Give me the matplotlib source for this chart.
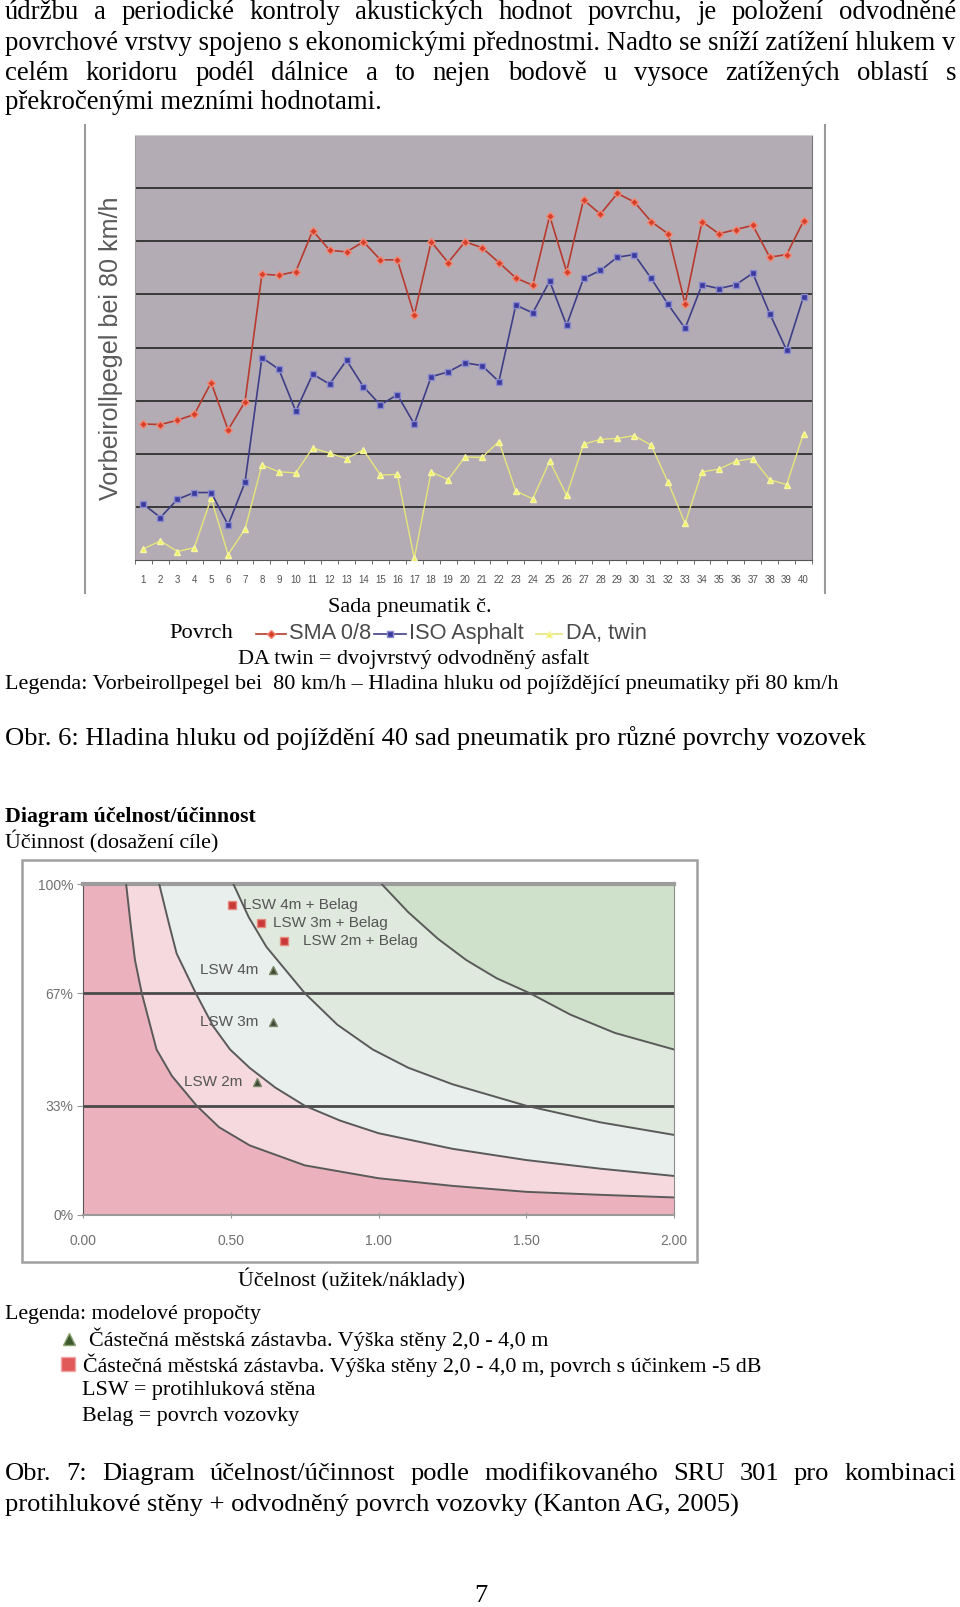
import numpy as np
import matplotlib
matplotlib.use('Agg')
import matplotlib.pyplot as plt
from matplotlib.lines import Line2D
from matplotlib.patches import Rectangle

# Obr. 6 - Vorbeirollpegel (in gridline units, no scale printed on the chart)
sady = list(range(1, 41))
sma_08 = [2.56, 2.55, 2.63, 2.74, 3.34, 2.45, 2.98, 5.38, 5.36, 5.43,
          6.20, 5.83, 5.80, 5.99, 5.65, 5.65, 4.61, 5.99, 5.60, 5.99,
          5.88, 5.60, 5.31, 5.17, 6.48, 5.43, 6.78, 6.51, 6.90, 6.74,
          6.37, 6.14, 4.82, 6.37, 6.14, 6.22, 6.30, 5.70, 5.75, 6.38]
iso_asphalt = [1.05, 0.80, 1.14, 1.27, 1.27, 0.66, 1.46, 3.81, 3.59, 2.80,
               3.50, 3.31, 3.76, 3.26, 2.92, 3.11, 2.56, 3.45, 3.54, 3.71,
               3.66, 3.36, 4.80, 4.65, 5.25, 4.42, 5.30, 5.45, 5.70, 5.75,
               5.30, 4.81, 4.36, 5.18, 5.11, 5.18, 5.40, 4.64, 3.95, 4.96]
da_twin = [0.21, 0.36, 0.16, 0.23, 1.16, 0.10, 0.58, 1.79, 1.66, 1.64,
           2.11, 2.01, 1.91, 2.07, 1.60, 1.61, 0.03, 1.66, 1.51, 1.94,
           1.93, 2.23, 1.30, 1.15, 1.86, 1.22, 2.18, 2.27, 2.29, 2.34,
           2.16, 1.46, 0.69, 1.66, 1.71, 1.86, 1.91, 1.51, 1.42, 2.38]

# Obr. 7 - hranice oblastí (účelnost, účinnost %)
k1_x = [0.145, 0.16, 0.175, 0.198, 0.248, 0.30, 0.384, 0.46, 0.564, 0.75, 1.0, 1.25, 1.5, 1.75, 2.0]
k1_y = [100, 88, 77, 67, 50, 42, 33, 26.5, 21, 15, 11.1, 8.8, 7.0, 6.1, 5.3]
k2_x = [0.257, 0.29, 0.316, 0.381, 0.44, 0.497, 0.564, 0.65, 0.75, 0.87, 1.0, 1.25, 1.5, 1.75, 2.0]
k2_y = [100, 88, 79, 67, 57, 50, 44.4, 38.5, 33, 28.5, 24.7, 20, 16.6, 14, 11.8]
k3_x = [0.508, 0.56, 0.62, 0.75, 0.86, 0.98, 1.1, 1.25, 1.5, 1.75, 2.0]
k3_y = [100, 90, 81, 67, 57.5, 50, 44.5, 39.5, 33, 28, 24.2]
k4_x = [1.01, 1.1, 1.2, 1.297, 1.4, 1.512, 1.65, 1.8, 2.0]
k4_y = [100, 91.5, 83.5, 77, 71.5, 67, 60.5, 55, 50]

belag_x = [0.502, 0.601, 0.680]
belag_y = [93.7, 88.1, 82.9]
belag_lbl = ['LSW 4m + Belag', 'LSW 3m + Belag', 'LSW 2m + Belag']
lsw_x = [0.641, 0.641, 0.587]
lsw_y = [74.0, 58.4, 40.3]
lsw_lbl = ['LSW 4m', 'LSW 3m', 'LSW 2m']

y_ticks = [0, 33, 67, 100]
x_ticks = [0.0, 0.5, 1.0, 1.5, 2.0]

W, H = 960, 1607
SERIF = 'Liberation Serif'
SANS = 'Liberation Sans'

fig = plt.figure(figsize=(W / 100, H / 100), dpi=100)
renderer = fig.canvas.get_renderer()


def fx(px):
    return px / W


def fy(py):
    return 1 - py / H


def fit_text(s, x0, x1, y, family=SERIF, weight='normal', color='black'):
    t = fig.text(fx(x0), fy(y), s, fontsize=12, family=family, weight=weight,
                 color=color, va='center', ha='left')
    w = t.get_window_extent(renderer).width
    t.set_fontsize(12 * (x1 - x0) / w)
    return t


def justify(line, x0, x1, y, size):
    words = line.split()
    ts = [fig.text(0, fy(y), w, fontsize=size, family=SERIF, va='center') for w in words]
    widths = [t.get_window_extent(renderer).width for t in ts]
    gap = (x1 - x0 - sum(widths)) / (len(words) - 1)
    x = x0
    for t, w in zip(ts, widths):
        t.set_x(fx(x))
        x += w + gap


# ---- text above ----
body = fit_text('povrchové vrstvy spojeno s ekonomickými přednostmi. Nadto se sníží zatížení hlukem v',
                5, 954, 43).get_fontsize()
justify('údržbu a periodické kontroly akustických hodnot povrchu, je položení odvodněné', 5, 956, 12.5, body)
justify('celém koridoru podél dálnice a to nejen bodově u vysoce zatížených oblastí s', 5, 956, 73, body)
fig.text(fx(5), fy(102.5), 'překročenými mezními hodnotami.', fontsize=body, family=SERIF, va='center')

# ---- Obr. 6 chart ----
ax1 = fig.add_axes([fx(135), fy(560), fx(812) - fx(135), (560 - 135) / H])
ax1.set_facecolor('#b4acb4')
ax1.plot(sady, da_twin, color='#e6e67a', lw=1, marker='^', ms=5,
         mfc='#f0f05a', mec='#f6f6a6', zorder=3)
ax1.plot(sady, iso_asphalt, color='#3e3e88', lw=1.2, marker='s', ms=4.5,
         mfc='#3a3a9c', mec='#8a8ad0', zorder=4)
ax1.plot(sady, sma_08, color='#b83a2e', lw=1.2, marker='D', ms=4,
         mfc='#d4402c', mec='#f08a76', zorder=5)
ax1.set_xlim(0.5, 40.5)
ax1.set_ylim(0, 8)
ax1.set_yticks(range(1, 8))
ax1.yaxis.grid(True, color='#383838', lw=1.4)
ax1.set_axisbelow(True)
ax1.tick_params(axis='y', length=0, labelleft=False)
ax1.set_xticks(sady)
ax1.set_xticklabels([str(s) for s in sady], fontsize=7, color='#505050', family=SANS)
ax1.set_xticks(np.arange(0.5, 41, 1), minor=True)
ax1.tick_params(axis='x', which='major', length=0, pad=11)
ax1.tick_params(axis='x', which='minor', length=3, color='#555555', direction='out')
ax1.spines['top'].set_color('#cfcfcf')
ax1.spines['left'].set_color('#a0a0a0')
ax1.spines['right'].set_color('#777777')
ax1.spines['bottom'].set_color('#555555')

ylab = fit_text('Vorbeirollpegel bei 80 km/h', 0, 304, 348, family=SANS, color='#5a5a5a')
ylab.set_rotation(90)
ylab.set_ha('center')
ylab.set_x(fx(111.5))

for xl in (85, 824.5):
    fig.add_artist(Line2D([fx(xl), fx(xl)], [fy(125), fy(593)], transform=fig.transFigure,
                          color='#9a9a9a', lw=1.5))

fit_text('Sada pneumatik č.', 328, 492, 607)
fit_text('Povrch', 169, 232.6, 633)
leg = fit_text('SMA 0/8', 289, 371, 633, family=SANS, color='#4a4a4a').get_fontsize()
fig.text(fx(409), fy(633), 'ISO Asphalt', fontsize=leg, family=SANS, color='#4a4a4a', va='center')
fig.text(fx(566), fy(633), 'DA, twin', fontsize=leg, family=SANS, color='#4a4a4a', va='center')
for (a, b), ln in zip([(256, 286), (374, 406), (536, 562)], ax1.get_lines()[::-1]):
    fig.add_artist(Line2D([fx(a), fx((a + b) / 2), fx(b)], [fy(634)] * 3, transform=fig.transFigure,
                          color=ln.get_color(), lw=1.2, marker=ln.get_marker(), markevery=[1],
                          ms=ln.get_markersize(), mfc=ln.get_markerfacecolor(),
                          mec=ln.get_markeredgecolor()))

fit_text('DA twin = dvojvrstvý odvodněný asfalt', 238, 589, 659)
fit_text('Legenda: Vorbeirollpegel bei  80 km/h – Hladina hluku od pojíždějící pneumatiky při 80 km/h',
         5, 838, 684)
fit_text('Obr. 6: Hladina hluku od pojíždění 40 sad pneumatik pro různé povrchy vozovek', 5, 864, 738)

# ---- Obr. 7 chart ----
fit_text('Diagram účelnost/účinnost', 5, 254, 817, weight='bold')
fit_text('Účinnost (dosažení cíle)', 5, 218, 842)

fig.add_artist(Rectangle((fx(21.7), fy(1262)), fx(697) - fx(21.7), (1262 - 860) / H,
                         transform=fig.transFigure, fill=False, ec='#a0a0a0', lw=1.8))

ax2 = fig.add_axes([fx(83.3), fy(1215), fx(674) - fx(83.3), (1215 - 884) / H])
ax2.set_xlim(0, 2)
ax2.set_ylim(0, 100)
ax2.set_facecolor('#ebb2be')
layers = [(k1_x, k1_y, '#f5d9de'), (k2_x, k2_y, '#e9efec'),
          (k3_x, k3_y, '#dfe9dd'), (k4_x, k4_y, '#cfe1ca')]
for xs, ys, c in layers:
    ax2.fill_between(xs, ys, 100, color=c, lw=0, zorder=1)
for xs, ys, c in layers:
    ax2.plot(xs, ys, color='#5a5a5a', lw=1.4, zorder=3)
ax2.hlines(y_ticks[1:3], 0, 2, color='#4a4a4a', lw=2, zorder=2)

ax2.plot(belag_x, belag_y, 's', ms=6, mfc='#c83a38', mec='#e88a80', zorder=5)
ax2.plot(lsw_x, lsw_y, '^', ms=6, mfc='#3f4a35', mec='#7a8a6a', zorder=5)
for x, y, s, dx in zip(belag_x, belag_y, belag_lbl, [11, 12, 19]):
    ax2.annotate(s, (x, y), xytext=(dx, 0), textcoords='offset pixels', ha='left', va='center',
                 fontsize=11, family=SANS, color='#555555')
for x, y, s in zip(lsw_x, lsw_y, lsw_lbl):
    ax2.annotate(s, (x, y), xytext=(-14, 0), textcoords='offset pixels', ha='right', va='center',
                 fontsize=11, family=SANS, color='#555555')

ax2.set_yticks(y_ticks)
ax2.set_yticklabels([f'{v}%' for v in y_ticks], family=SANS)
ax2.set_xticks(x_ticks)
ax2.set_xticklabels([f'{v:.2f}' for v in x_ticks], family=SANS)
ax2.tick_params(axis='y', direction='out', length=4, color='#999999', labelcolor='#707070',
                labelsize=10, pad=3)
ax2.tick_params(axis='x', direction='inout', length=5, color='#999999', labelcolor='#707070',
                labelsize=10, pad=11)
ax2.spines['top'].set_color('#9c9c9c')
ax2.spines['top'].set_linewidth(3)
ax2.spines['right'].set_color('#8c8c8c')
ax2.spines['left'].set_color('#555555')
ax2.spines['bottom'].set_color('#9a9a9a')
ax2.spines['bottom'].set_linewidth(1.5)

fit_text('Účelnost (užitek/náklady)', 238, 466, 1279)
fit_text('Legenda: modelové propočty', 5, 261, 1314)
fig.add_artist(Line2D([fx(69)], [fy(1339)], transform=fig.transFigure, marker='^', ms=9,
                      mfc='#3d5a2d', mec='#8aa070', lw=0))
fig.add_artist(Line2D([fx(67.5)], [fy(1364)], transform=fig.transFigure, marker='s', ms=10,
                      mfc='#e05a5a', mec='#f2a4a4', lw=0))
fit_text('Částečná městská zástavba. Výška stěny 2,0 - 4,0 m', 89, 547, 1339)
fit_text('Částečná městská zástavba. Výška stěny 2,0 - 4,0 m, povrch s účinkem -5 dB', 83, 763, 1365)
fit_text('LSW = protihluková stěna', 81.5, 315, 1390)
fit_text('Belag = povrch vozovky', 81.5, 298.5, 1416)

cap = fit_text('protihlukové stěny + odvodněný povrch vozovky (Kanton AG, 2005)', 5, 738, 1505).get_fontsize()
justify('Obr. 7: Diagram účelnost/účinnost podle modifikovaného SRU 301 pro kombinaci', 5, 956, 1474, cap)

fig.text(fx(481), fy(1596), '7', fontsize=cap, family=SERIF, ha='center', va='center')

fig.savefig('out.png', dpi=100)
